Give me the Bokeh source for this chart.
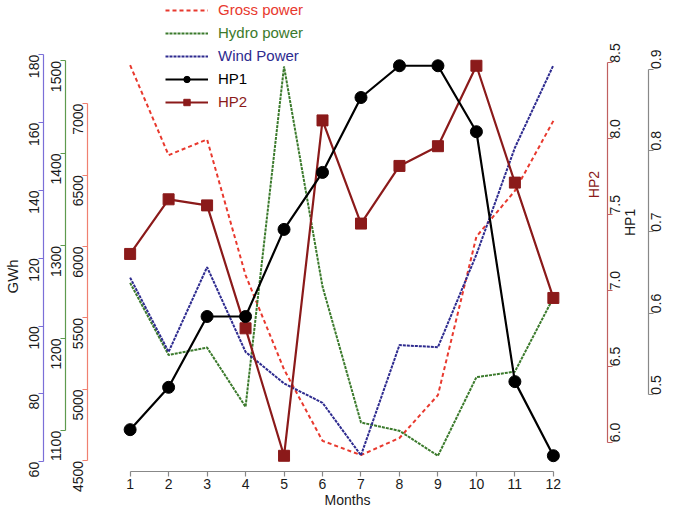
import math
from bokeh.plotting import figure
from bokeh.models import (Range1d, LinearAxis, FixedTicker, PrintfTickFormatter,
                          Legend, LegendItem, Label, Title)
from bokeh.embed import file_html
from bokeh.resources import INLINE

# ---- data ----
months = list(range(1, 13))
gross_power = [7270, 6640, 6750, 5800, 5140, 4640, 4540, 4660, 4960, 6070, 6390, 6880]
hydro_power = [1260, 1182, 1190, 1126, 1494, 1256, 1109, 1100, 1073, 1158, 1164, 1244]
wind_power = [114.3, 92.4, 117.4, 92.4, 83.1, 77.4, 61.9, 94.4, 93.8, 121.1, 152.6, 176.9]
hp1 = [0.457, 0.509, 0.596, 0.596, 0.703, 0.773, 0.865, 0.904, 0.904, 0.823, 0.516, 0.425]
hp2 = [7.24, 7.60, 7.56, 6.75, 5.91, 8.12, 7.44, 7.82, 7.95, 8.48, 7.71, 6.95]

month_ticks = months
wind_ticks = [60, 80, 100, 120, 140, 160, 180]
hydro_ticks = [1100, 1200, 1300, 1400, 1500]
gross_ticks = [4500, 5000, 5500, 6000, 6500, 7000]
hp2_ticks = [6.0, 6.5, 7.0, 7.5, 8.0, 8.5]
hp1_ticks = [0.5, 0.6, 0.7, 0.8, 0.9]

C_GROSS = "#E8392E"
C_HYDRO = "#3B7A2C"
C_WIND = "#2E2B8F"
C_HP1 = "#000000"
C_HP2 = "#8B1A1A"
FONT = "Liberation Sans"

p = figure(width=669, height=510, output_backend="svg", toolbar_location=None,
           x_range=Range1d(-0.108, 13.407), y_range=Range1d(4425.4, 7722.5),
           min_border_top=0, min_border_bottom=0, min_border_left=0, min_border_right=0,
           outline_line_color=None)
p.grid.visible = False
p.extra_y_ranges = {
    "hydro": Range1d(1056.0, 1565.4),
    "wind": Range1d(57.14, 196.0),
    "hp2": Range1d(5.8065, 8.9100),
    "hp1": Range1d(0.4056, 0.98417),
}


def style_axis(ax, color, ticks, bounds, vertical=True, standoff=4):
    ax.ticker = FixedTicker(ticks=ticks)
    ax.bounds = bounds
    ax.axis_line_color = color
    ax.axis_line_width = 1.2
    ax.major_tick_line_color = color
    ax.major_tick_line_width = 1.2
    ax.minor_tick_line_color = None
    ax.major_tick_in = 0
    ax.major_tick_out = 5
    ax.major_label_standoff = standoff
    ax.major_label_text_font = FONT
    ax.major_label_text_font_size = "14px"
    ax.major_label_text_color = "#1a1a1a"
    ax.axis_label_text_font = FONT
    ax.axis_label_text_font_style = "normal"
    ax.axis_label_text_font_size = "14px"
    ax.axis_label_text_color = "#1a1a1a"
    if vertical:
        ax.major_label_orientation = math.pi / 2


# x axis
xa = p.xaxis[0]
style_axis(xa, "#888888", month_ticks, (1, 12), vertical=False, standoff=2)
xa.axis_label = "Months"
xa.axis_label_standoff = 0

# left axes (innermost first)
ya = p.yaxis[0]
style_axis(ya, "#F08070", gross_ticks, (4500, 7000))

ax_h = LinearAxis(y_range_name="hydro")
style_axis(ax_h, "#5E9A4E", hydro_ticks, (1100, 1500))
p.add_layout(ax_h, "left")

ax_w = LinearAxis(y_range_name="wind")
style_axis(ax_w, "#7B6FD8", wind_ticks, (60, 180))
p.add_layout(ax_w, "left")

# "GWh" title, left of all the left axes, a little below the middle
p.add_layout(Title(text="GWh", align="left", offset=178, standoff=2,
                   text_font=FONT, text_font_style="normal",
                   text_font_size="15px", text_color="#1a1a1a"), "left")

# right axes
ax_p2 = LinearAxis(y_range_name="hp2")
style_axis(ax_p2, "#C06060", hp2_ticks, (6.0, 8.5), standoff=3)
ax_p2.formatter = PrintfTickFormatter(format="%.1f")
p.add_layout(ax_p2, "right")

# title of the HP1 axis, sitting between the HP2 and HP1 axes
ax_t1 = LinearAxis(y_range_name="hp1")
ax_t1.ticker = FixedTicker(ticks=[])
ax_t1.axis_line_color = None
ax_t1.major_tick_line_color = None
ax_t1.minor_tick_line_color = None
ax_t1.major_tick_in = 0
ax_t1.major_tick_out = 0
ax_t1.major_label_standoff = 0
ax_t1.axis_label = "HP1"
ax_t1.axis_label_standoff = 1
ax_t1.axis_label_orientation = math.pi / 2
ax_t1.axis_label_text_font = FONT
ax_t1.axis_label_text_font_style = "normal"
ax_t1.axis_label_text_font_size = "14px"
ax_t1.axis_label_text_color = "#1a1a1a"
p.add_layout(ax_t1, "right")

ax_p1 = LinearAxis(y_range_name="hp1")
style_axis(ax_p1, "#888888", hp1_ticks, (0.5, 0.9), standoff=3)
ax_p1.formatter = PrintfTickFormatter(format="%.1f")
p.add_layout(ax_p1, "right")

# series
r_gross = p.line(months, gross_power, color=C_GROSS, line_width=2, line_dash="4 3")
r_hydro = p.line(months, hydro_power, y_range_name="hydro", color=C_HYDRO,
                 line_width=2, line_dash="3 1")
r_wind = p.line(months, wind_power, y_range_name="wind", color=C_WIND,
                line_width=2, line_dash="3 1")
r_hp2_l = p.line(months, hp2, y_range_name="hp2", color=C_HP2, line_width=2.2)
r_hp2_m = p.scatter(months, hp2, y_range_name="hp2", marker="square", size=11,
                    color=C_HP2)
r_hp1_l = p.line(months, hp1, y_range_name="hp1", color=C_HP1, line_width=2.2)
r_hp1_m = p.scatter(months, hp1, y_range_name="hp1", marker="circle", size=12,
                    color=C_HP1)

# legend rows (one legend per row to colour each label)
frame_h = 470
specs = [("Gross power", [r_gross], C_GROSS),
         ("Hydro power", [r_hydro], C_HYDRO),
         ("Wind Power", [r_wind], C_WIND),
         ("HP1", [r_hp1_l, r_hp1_m], C_HP1),
         ("HP2", [r_hp2_l, r_hp2_m], C_HP2)]
for i, (lab, rends, col) in enumerate(specs):
    center = 9 + 23 * i
    lg = Legend(items=[LegendItem(label=lab, renderers=rends)],
                location=(78, int(round(frame_h - center - 8))),
                background_fill_alpha=0, border_line_color=None,
                padding=0, margin=0, spacing=0,
                glyph_width=43, glyph_height=16, label_height=16,
                label_standoff=10, label_text_font=FONT,
                label_text_font_size="15px", label_text_color=col)
    p.add_layout(lg, "center")

# title of the HP2 axis (inside the plotting area, as in the original)
p.add_layout(Label(x=13.06, y=7.697, y_range_name="hp2", text="HP2",
                   angle=math.pi / 2, text_align="center", text_baseline="middle",
                   text_color=C_HP2, text_font=FONT, text_font_size="14px"))

open("out.html", "w").write(file_html(p, INLINE))
